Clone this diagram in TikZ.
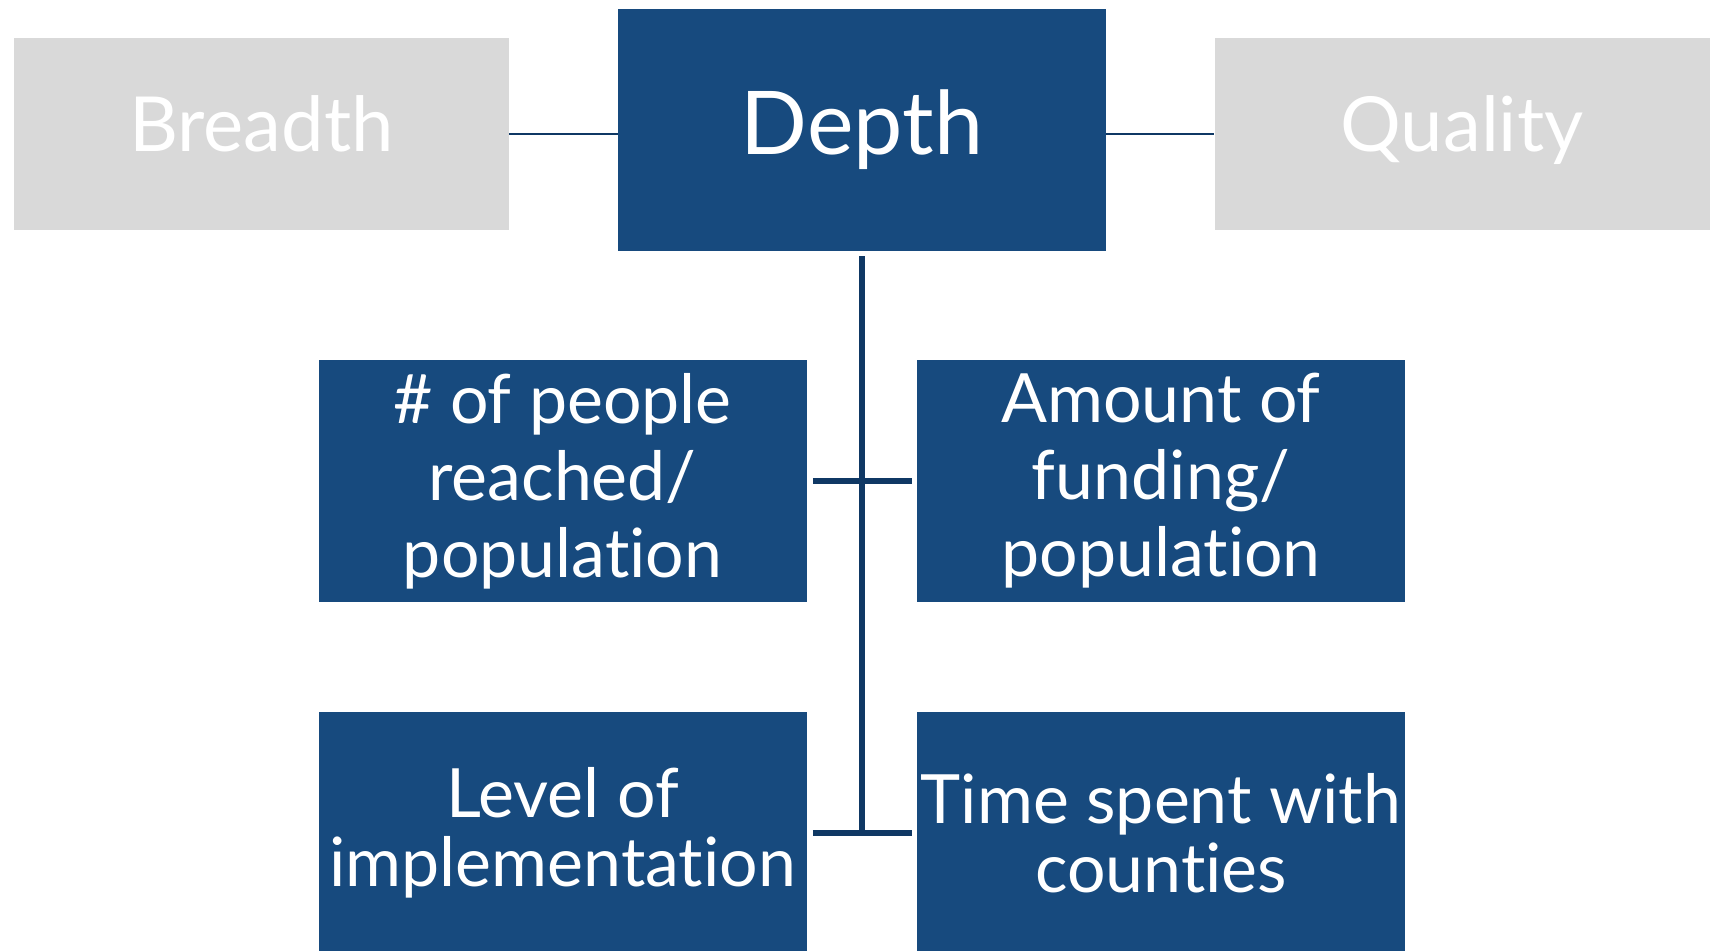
\documentclass[tikz,border=0pt]{standalone}
\usepackage{fontspec}
\setmainfont{Lato}[Ligatures={NoCommon,NoRare,NoDiscretionary}]
\usepackage{tikz}
\usetikzlibrary{positioning}
\definecolor{boxblue}{HTML}{174A7E}
\definecolor{lineblue}{HTML}{0F3864}
\definecolor{boxgray}{HTML}{D9D9D9}
\tikzset{
  bigbox/.style={fill=boxblue,text=white,inner sep=0pt,align=center,
    minimum width=244pt,minimum height=121pt,
    font=\fontsize{34}{34.5}\selectfont},
  tallbox/.style={bigbox,font=\fontsize{34}{38.5}\selectfont},
  sidebox/.style={fill=boxgray,text=white,inner sep=0pt,align=center,
    minimum width=247.5pt,minimum height=96pt,text height=30pt,text depth=12pt,
    font=\fontsize{38}{40}\selectfont},
  thinlink/.style={lineblue,line width=1pt},
  thicklink/.style={lineblue,line width=2.8pt}
}
\begin{document}
\begin{tikzpicture}[x=0.5pt,y=-0.5pt]
		\useasboundingbox (0,0) rectangle (1714,951);
		\path (862,130) node(depth)[bigbox,font=\fontsize{44}{46}\selectfont]{Depth}
		(261.5,134) node(breadth)[sidebox]{Breadth}
		(1462,134) node(quality)[sidebox]{Quality}
		(562.5,481) node(reach)[tallbox]{\# of people\\reached/\\population}
		(1161,481) node(funding)[tallbox]{Amount of\\funding/\\population}
		(562.5,833) node(level)[bigbox]{Level of\\implementation}
		(1161,833) node(time)[bigbox]{Time spent with\\counties};
		\coordinate (join) at (depth.south |- level.east);
		\draw[thinlink] (breadth.east |- 0,134) -- (depth.west |- 0,134);
		\draw[thinlink] (depth.east |- 0,134) -- (quality.west |- 0,134);
		\draw[thicklink,shorten <=2.5pt] (depth.south) -- (join);
		\draw[thicklink,shorten <=3pt,shorten >=2.5pt] (reach.east) -- (funding.west);
		\draw[thicklink,shorten <=3pt,shorten >=2.5pt] (level.east) -- (time.west);
	\end{tikzpicture}
\end{document}
